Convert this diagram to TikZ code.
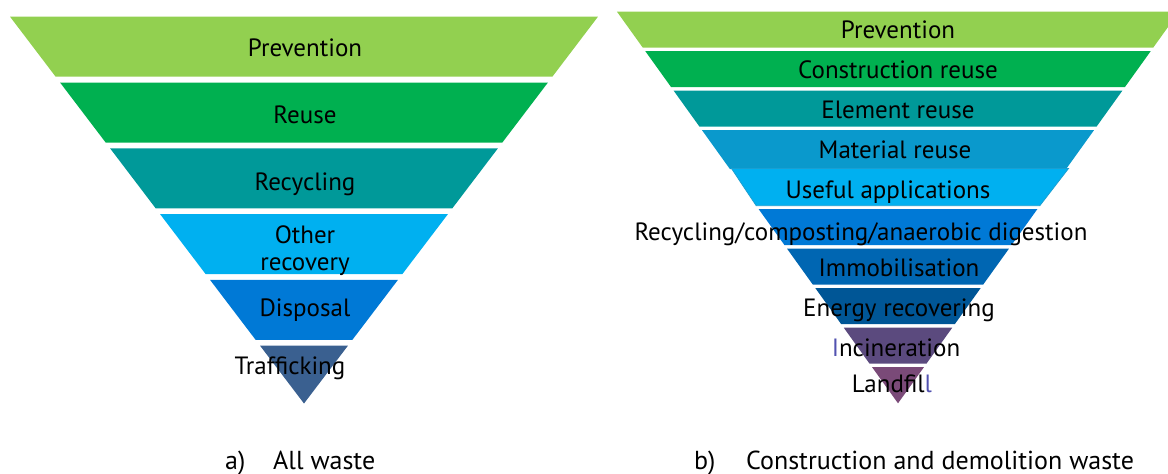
\documentclass[tikz,border=0pt]{standalone}
\usepackage{fontspec}
\setmainfont{PT Sans}
\definecolor{cPrev}{HTML}{92D050}
\definecolor{cReuse}{HTML}{00B050}
\definecolor{cTeal}{HTML}{009999}
\definecolor{cSky}{HTML}{00B0F0}
\definecolor{cMat}{HTML}{0A99CC}
\definecolor{cUseEdge}{HTML}{1A9FD2}
\definecolor{cBlue}{HTML}{0079D6}
\definecolor{cImmo}{HTML}{0066B2}
\definecolor{cEnergy}{HTML}{005696}
\definecolor{cTraf}{HTML}{3A6090}
\definecolor{cInc}{HTML}{5B4A7E}
\definecolor{cLand}{HTML}{7A4A78}
\definecolor{cLetter}{HTML}{5252B0}
% one horizontal slice of an inverted triangle:
% centre x, apex y, half-width slope, top y, bottom y, fill colour
\newcommand\wband[6]{%
  \pgfmathsetmacro\hwt{#3*(#2-#4)}%
  \pgfmathsetmacro\hwb{#3*(#2-#5)}%
  \fill[#6] ({#1-\hwt},#4) -- ({#1+\hwt},#4) -- ({#1+\hwb},#5) -- ({#1-\hwb},#5) -- cycle;}
\begin{document}
\begin{tikzpicture}[x=1pt,y=-1pt,
  lbl/.style={font=\fontsize{25}{27}\selectfont, text=black, inner sep=0pt, anchor=base},
  captext/.style={font=\fontsize{26}{28}\selectfont, text=black, inner sep=0pt, anchor=base west}]
\useasboundingbox (0,0) rectangle (1168,474);
\clip (0,0) rectangle (1168,474);

% a) general waste hierarchy
\wband{304}{403.5}{0.760}{16.7}{76.7}{cPrev}
\wband{304}{403.5}{0.760}{82.5}{142.5}{cReuse}
\wband{304}{403.5}{0.760}{148.3}{208.3}{cTeal}
\wband{304}{403.5}{0.760}{214.1}{274.1}{cSky}
\wband{304}{403.5}{0.760}{279.9}{339.9}{cBlue}
\wband{304}{403.5}{0.760}{345.7}{403.5}{cTraf}

\node[lbl] (lprev) at (305,56.7) {Prevention};
\node[lbl] (lreuse) at (305,123.3) {Reuse};
\node[lbl] (lrecy) at (305,190) {Recycling};
\node[lbl] (lother) at (305,243.3) {Other};
\node[lbl] (lrecov) at (305,270.7) {recovery};
\node[lbl] (ldisp) at (305,316.7) {Disposal};
\node[lbl] (ltraf) at (290,374) {Trafficking};

% b) construction and demolition waste hierarchy
\wband{898}{403.3}{0.7176}{11.7}{47.7}{cPrev}
\wband{898}{403.3}{0.7176}{51.2}{87.2}{cReuse}
\wband{898}{403.3}{0.7176}{90.7}{126.7}{cTeal}
\wband{898}{403.3}{0.7176}{130.2}{169}{cMat}
\pgfmathsetmacro\hwt{0.7176*(403.3-168.5)}
\pgfmathsetmacro\hwb{0.7176*(403.3-205.7)}
\filldraw[fill=cSky, draw=cUseEdge, line width=0.8pt]
  ({898-\hwt+2},168.5) -- ({898+\hwt+2},168.5) -- ({898+\hwb},205.7) -- ({898-\hwb},205.7) -- cycle;
\wband{898}{403.3}{0.7176}{209.2}{245.2}{cBlue}
\wband{898}{403.3}{0.7176}{248.7}{284.7}{cImmo}
\wband{898}{403.3}{0.7176}{288.2}{324.2}{cEnergy}
\wband{898}{403.3}{0.7176}{327.7}{363.7}{cInc}
\wband{898}{403.3}{0.7176}{367.2}{403.3}{cLand}

\node[lbl] (rprev) at (898,38.3) {Prevention};
\node[lbl] (rcons) at (898,78.3) {Construction reuse};
\node[lbl] (relem) at (898,118.3) {Element reuse};
\node[lbl] (rmat) at (895,158.3) {Material reuse};
\node[lbl] (ruse) at (888,198.3) {Useful applications};
\node[lbl] (rrecy) at (861,240) {Recycling/composting/anaerobic digestion};
\node[lbl] (rimmo) at (899,276) {Immobilisation};
\node[lbl] (renergy) at (899,316) {Energy recovering};
\node[lbl] (rinc) at (896,356) {\textcolor{cLetter}{I}ncineration};
\node[lbl] (rland) at (892,392.7) {Landfil\textcolor{cLetter}{l}};

% captions
\node[captext] (capa) at (225,469) {a)};
\node[captext] (capatxt) at (273,469) {All waste};
\node[captext] (capb) at (694,469) {b)};
\node[captext] (capbtxt) at (746,469) {Construction and demolition waste};
\end{tikzpicture}
\end{document}
